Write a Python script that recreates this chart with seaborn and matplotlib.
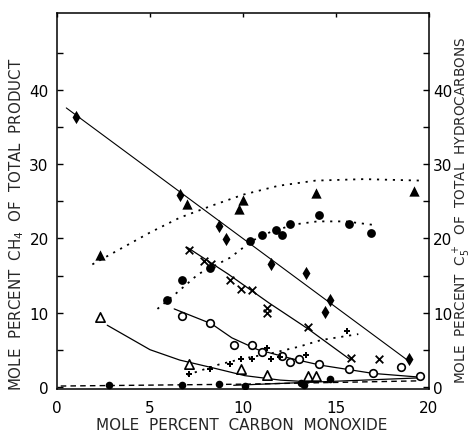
import matplotlib
matplotlib.use("Agg")
import matplotlib.pyplot as plt
import seaborn as sns
import pandas as pd

# ---- data ----
# filled diamonds (CH4) with straight solid fit
diam_x = [1.0, 6.6, 8.7, 9.1, 11.5, 13.4, 14.7, 14.4, 18.9]
diam_y = [36.4, 25.8, 21.7, 19.9, 16.6, 15.4, 11.7, 10.1, 3.8]
diam_fit_x = [0.5, 19.0]
diam_fit_y = [37.6, 3.3]

# filled triangles with dotted curve
tri_x = [2.3, 7.0, 9.8, 10.0, 13.9, 19.2]
tri_y = [17.8, 24.6, 24.0, 25.2, 26.1, 26.4]
tri_fit_x = [1.9, 5.0, 6.6, 8.3, 10.0, 11.9, 13.9, 16.5, 19.6]
tri_fit_y = [16.5, 20.8, 22.8, 24.4, 25.9, 27.1, 27.8, 28.0, 27.8]

# filled circles with dotted curve
circ_x = [5.9, 6.7, 8.2, 10.4, 11.0, 11.8, 12.1, 12.5, 14.1, 15.7, 16.9]
circ_y = [11.7, 14.4, 16.0, 19.6, 20.5, 21.1, 20.4, 21.9, 23.1, 22.0, 20.8]
circ_fit_x = [5.4, 6.5, 7.6, 9.3, 10.5, 11.5, 12.8, 14.0, 15.5, 17.1]
circ_fit_y = [10.5, 12.8, 15.2, 17.4, 19.7, 20.9, 21.9, 22.3, 22.3, 21.8]

# crosses with solid curve
xm_x = [7.1, 7.9, 8.3, 9.3, 9.9, 10.5, 11.3, 11.3, 13.5, 15.8, 17.3]
xm_y = [18.5, 17.0, 16.5, 14.4, 13.2, 13.0, 10.6, 10.0, 8.1, 3.9, 3.7]
xm_fit_x = [7.0, 9.2, 11.4, 13.5, 15.8]
xm_fit_y = [18.8, 15.2, 11.3, 7.8, 3.6]

# open circles with solid curve
oc_x = [6.7, 8.2, 9.5, 10.5, 11.0, 12.1, 12.5, 13.0, 14.1, 15.7, 17.0, 18.5, 19.5]
oc_y = [9.5, 8.6, 5.7, 5.6, 4.7, 4.2, 3.4, 3.8, 3.1, 2.4, 1.9, 2.7, 1.4]
oc_fit_x = [6.3, 8.3, 9.4, 10.8, 12.6, 14.2, 17.0, 19.5]
oc_fit_y = [10.5, 8.5, 6.6, 5.0, 3.8, 2.9, 1.8, 1.3]

# open triangles with solid curve
ot_x = [2.3, 7.1, 9.9, 11.3, 13.5, 13.9]
ot_y = [9.4, 3.1, 2.4, 1.6, 1.5, 1.5]
ot_fit_x = [2.7, 5.0, 6.6, 8.3, 10.1, 12.0, 14.0]
ot_fit_y = [8.3, 5.0, 3.6, 2.6, 1.5, 0.9, 0.6]

# small filled crosses with dotted curve
pl_x = [7.1, 8.2, 9.3, 9.9, 10.5, 11.3, 11.5, 12.0, 13.4, 15.6]
pl_y = [1.7, 2.4, 3.1, 3.8, 3.8, 5.2, 3.8, 4.0, 4.3, 7.5]
pl_fit_x = [7.0, 8.7, 10.0, 11.5, 13.0, 14.2, 16.2]
pl_fit_y = [1.6, 3.0, 3.8, 4.5, 5.4, 6.3, 7.1]

# filled points along the bottom
bot_x = [2.8, 6.7, 8.7, 10.1, 13.1, 13.3, 14.7]
bot_y = [0.2, 0.2, 0.4, 0.1, 0.5, 0.3, 1.0]
bot_fit_x = [0.2, 10.0, 19.5]
bot_fit_y = [0.1, 0.35, 0.8]
bot_fit2_x = [9.5, 19.5]
bot_fit2_y = [0.2, 1.2]

x_ticks = [0, 5, 10, 15, 20]
y_ticks = [0, 10, 20, 30, 40]
y_minor = [5, 15, 25, 35, 45]

# ---- figure ----
sns.set_style("white")
plt.rcParams["font.family"] = ["DejaVu Sans"]

fig = plt.figure(figsize=(4.72, 4.39), dpi=100)
ax = fig.add_axes([57/472, 1 - 390/439, (429-57)/472, (390-14)/439])

def line(xs, ys, ls, lw=0.9):
    df = pd.DataFrame({"x": xs, "y": ys})
    sns.lineplot(data=df, x="x", y="y", ax=ax, color="black", linestyle=ls,
                 linewidth=lw, estimator=None, sort=False, legend=False)

def pts(xs, ys, marker, size, face="black", lw=0.0):
    df = pd.DataFrame({"x": xs, "y": ys})
    sns.scatterplot(data=df, x="x", y="y", ax=ax, marker=marker, s=size,
                    color=face, edgecolor="black", linewidth=lw, legend=False, zorder=3)

dots = (0, (1.2, 3.2))
line(diam_fit_x, diam_fit_y, "-", 0.8)
line(tri_fit_x, tri_fit_y, dots, 1.3)
line(circ_fit_x, circ_fit_y, dots, 1.3)
line(xm_fit_x, xm_fit_y, "-", 0.9)
line(oc_fit_x, oc_fit_y, "-", 0.9)
line(ot_fit_x, ot_fit_y, "-", 0.9)
line(pl_fit_x, pl_fit_y, dots, 1.3)
line(bot_fit_x, bot_fit_y, (0, (4, 3)), 1.0)
line(bot_fit2_x, bot_fit2_y, "-", 0.9)

pts(diam_x, diam_y, "d", 45)
pts(tri_x, tri_y, "^", 55)
pts(circ_x, circ_y, "o", 40)
pts(xm_x, xm_y, "x", 30, lw=1.3)
pts(oc_x, oc_y, "o", 30, face="white", lw=1.2)
pts(ot_x, ot_y, "^", 45, face="white", lw=1.2)
pts(pl_x, pl_y, "P", 18)
pts(bot_x, bot_y, "o", 30)

ax.set_xlim(0, 20)
ax.set_ylim(-0.3, 50.4)
ax.set_xticks(x_ticks)
ax.set_yticks(y_ticks)
ax.set_yticks(y_minor, minor=True)
ax.set_xlabel("")
ax.set_ylabel("")
ax.tick_params(axis="both", which="both", direction="in", labelsize=11,
               colors="black", top=True, right=False)
ax.tick_params(axis="y", which="major", length=4, width=1, pad=6)
ax.tick_params(axis="y", which="minor", length=4, width=1)
ax.tick_params(axis="x", which="major", length=3, width=1, pad=8)
for sp in ax.spines.values():
    sp.set_color("black")
    sp.set_linewidth(1.1)
    sp.set_visible(True)

ax2 = ax.twinx()
ax2.set_ylim(ax.get_ylim())
ax2.set_yticks(y_ticks)
ax2.set_yticks(y_minor, minor=True)
ax2.tick_params(axis="y", which="both", direction="in", labelsize=11, length=4,
                width=1, pad=3, colors="black")
for sp in ax2.spines.values():
    sp.set_visible(False)

fig.text(242/472, 1 - 426/439, "MOLE  PERCENT  CARBON  MONOXIDE",
         ha="center", va="center", fontsize=11)
fig.text(17/472, 1 - 224/439, "MOLE  PERCENT  CH$_4$  OF  TOTAL  PRODUCT",
         ha="center", va="center", rotation=90, fontsize=10.8)
fig.text(462/472, 1 - 210/439, "MOLE  PERCENT  C$_5^+$  OF  TOTAL  HYDROCARBONS",
         ha="center", va="center", rotation=90, fontsize=9.8)

fig.savefig("out.png", dpi=100)
